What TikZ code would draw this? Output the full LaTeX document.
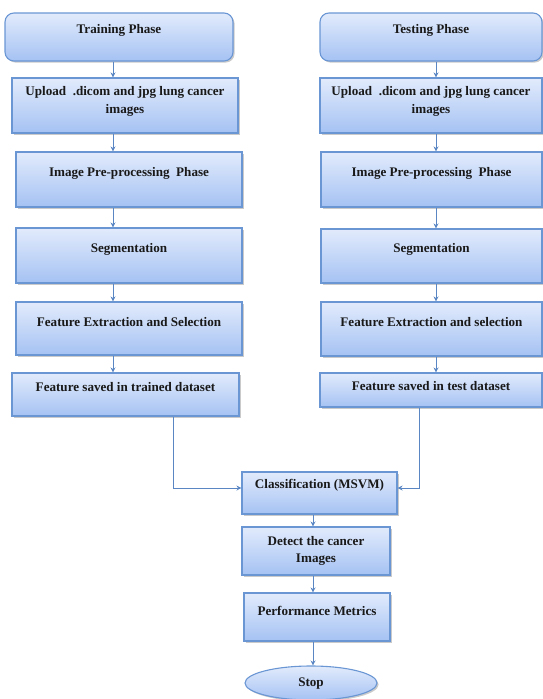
\documentclass[tikz,border=0pt]{standalone}
\usepackage{fontspec}
\setmainfont{Liberation Serif}
\usetikzlibrary{arrows.meta,shadows,shapes.geometric}

\definecolor{boxtop}{HTML}{E2EBFC}
\definecolor{boxbot}{HTML}{A5C2F3}
\definecolor{boxline}{HTML}{6A96D4}
\definecolor{flow}{HTML}{5A86C4}

\tikzset{
  stepbox/.style={
    rectangle, draw=boxline, line width=1.1pt,
    top color=boxtop, bottom color=boxbot,
    drop shadow={shadow xshift=1.6pt, shadow yshift=-1.6pt, opacity=0.35, fill=black!60},
    font=\fontsize{13.1}{17.5}\selectfont\bfseries, text=black!90,
    align=center, inner sep=2pt, text height=9pt
  },
  twoline/.style={text height={}},
  phasebox/.style={stepbox, rounded corners=9pt},
  endbox/.style={stepbox, ellipse, inner sep=0pt},
  flowline/.style={draw=flow, line width=1pt, -{Stealth[length=5pt,width=5pt]}},
}

\begin{document}
\begin{tikzpicture}[x=1pt,y=-1pt]
\useasboundingbox (0,0) rectangle (543,699);

% column guides for the vertical connectors
\coordinate (colL) at (113,0);
\coordinate (colR) at (436,0);
\coordinate (colM) at (313,0);
\coordinate (mergeL) at (173,488);
\coordinate (mergeR) at (419,488);

% training branch
\node[phasebox, minimum width=228pt, minimum height=48pt, text depth=17pt] (tr) at (119,37) {Training Phase};
\node[stepbox, twoline, minimum width=226pt, minimum height=55pt, text depth=11pt] (up1) at (125,105.5) {Upload~ .dicom and jpg lung cancer\\images};
\node[stepbox, minimum width=226pt, minimum height=55pt, text depth=16pt] (pre1) at (129,179.5) {Image Pre-processing~ Phase};
\node[stepbox, minimum width=226pt, minimum height=55pt, text depth=16pt] (seg1) at (129,255.5) {Segmentation};
\node[stepbox, minimum width=226pt, minimum height=53pt, text depth=14pt] (fe1) at (129,328.5) {Feature Extraction and Selection};
\node[stepbox, minimum width=227pt, minimum height=43pt, text depth=16pt] (fs1) at (125.5,394.5) {Feature saved in trained dataset};

% testing branch
\node[phasebox, minimum width=222pt, minimum height=48pt, text depth=17pt] (ts) at (431,37) {Testing Phase};
\node[stepbox, twoline, minimum width=222pt, minimum height=55pt, text depth=11pt] (up2) at (431,105.5) {Upload~ .dicom and jpg lung cancer\\images};
\node[stepbox, minimum width=221pt, minimum height=55pt, text depth=16pt] (pre2) at (431.5,179.5) {Image Pre-processing~ Phase};
\node[stepbox, minimum width=221pt, minimum height=54pt, text depth=16pt] (seg2) at (431.5,256) {Segmentation};
\node[stepbox, minimum width=221pt, minimum height=54pt, text depth=14pt] (fe2) at (431.5,329) {Feature Extraction and selection};
\node[stepbox, minimum width=222pt, minimum height=34pt, text depth=9pt] (fs2) at (431,390) {Feature saved in test dataset};

% shared tail
\node[stepbox, minimum width=155pt, minimum height=42pt, text depth=19pt] (cls) at (319.5,493) {Classification (MSVM)};
\node[stepbox, twoline, minimum width=148pt, minimum height=48pt, text depth=3pt] (det) at (316,551) {Detect the cancer\\Images};
\node[stepbox, minimum width=146pt, minimum height=48pt, text depth=13pt] (perf) at (317,617) {Performance Metrics};
\node[endbox, minimum width=132pt, minimum height=34pt, text depth=3pt] (stop) at (311,683) {Stop};

% training connectors
\draw[flowline] (tr.south -| colL) -- (up1.north -| colL);
\draw[flowline] (up1.south -| colL) -- (pre1.north -| colL);
\draw[flowline] (pre1.south -| colL) -- (seg1.north -| colL);
\draw[flowline] (seg1.south -| colL) -- (fe1.north -| colL);
\draw[flowline] (fe1.south -| colL) -- (fs1.north -| colL);

% testing connectors
\draw[flowline] (ts.south -| colR) -- (up2.north -| colR);
\draw[flowline] (up2.south -| colR) -- (pre2.north -| colR);
\draw[flowline] (pre2.south -| colR) -- (seg2.north -| colR);
\draw[flowline] (seg2.south -| colR) -- (fe2.north -| colR);
\draw[flowline] (fe2.south -| colR) -- (fs2.north -| colR);

% both branches merge into the classifier
\draw[flowline] (fs1.south -| mergeL) -- (mergeL) -- (cls.west |- mergeL);
\draw[flowline] (fs2.south -| mergeR) -- (mergeR) -- (cls.east |- mergeR);

% tail connectors
\draw[flowline] (cls.south -| colM) -- (det.north -| colM);
\draw[flowline] (det.south -| colM) -- (perf.north -| colM);
\draw[flowline] (perf.south -| colM) -- (stop.north -| colM);
\end{tikzpicture}
\end{document}
